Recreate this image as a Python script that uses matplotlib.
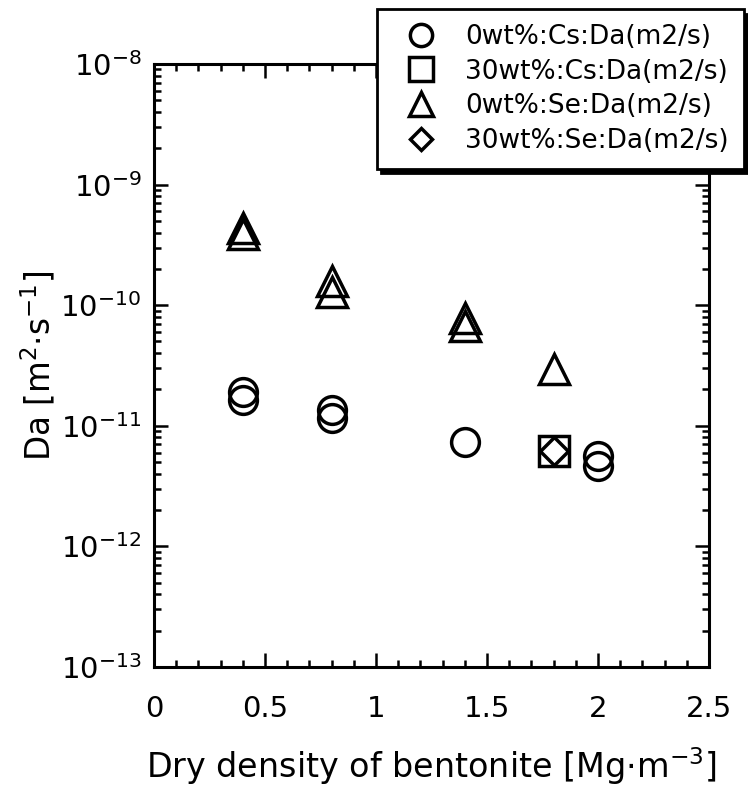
import numpy as np
import matplotlib
matplotlib.use("Agg")
import matplotlib.pyplot as plt
from matplotlib.ticker import MultipleLocator, LogLocator, NullFormatter

# Data (dry density in Mg/m3, Da in m2/s)
cs0_x = [0.4, 0.4, 0.8, 0.8, 1.4, 2.0, 2.0]
cs0_da = [1.9e-11, 1.64e-11, 1.35e-11, 1.16e-11, 7.3e-12, 5.6e-12, 4.65e-12]

cs30_x = [1.8]
cs30_da = [6.2e-12]

se0_x = [0.4, 0.4, 0.8, 0.8, 1.4, 1.4, 1.8]
se0_da = [4.4e-10, 3.9e-10, 1.58e-10, 1.29e-10, 7.8e-11, 6.7e-11, 2.96e-11]

se30_x = [1.8]
se30_da = [6.2e-12]

labels = ["0wt%:Cs:Da(m2/s)", "30wt%:Cs:Da(m2/s)",
          "0wt%:Se:Da(m2/s)", "30wt%:Se:Da(m2/s)"]

plt.rcParams['font.family'] = ['DejaVu Sans']
plt.rcParams['mathtext.default'] = 'regular'

fig = plt.figure(figsize=(7.48, 7.86), dpi=100)
ax = fig.add_axes([0.2059, 0.1514, 0.742, 0.7672])

mk = dict(linestyle='none', markerfacecolor='none', markeredgecolor='black',
          markeredgewidth=2.5)
ax.plot(cs0_x, cs0_da, marker='o', markersize=20, label=labels[0], **mk)
ax.plot(cs30_x, cs30_da, marker='s', markersize=21, label=labels[1], **mk)
ax.plot(se0_x, se0_da, marker='^', markersize=21, label=labels[2], **mk)
ax.plot(se30_x, se30_da, marker='D', markersize=14, label=labels[3], **mk)

ax.set_yscale('log')
ax.set_xlim(0, 2.5)
ax.set_ylim(1e-13, 1e-8)
ax.xaxis.set_minor_locator(MultipleLocator(0.1))
ax.yaxis.set_major_locator(LogLocator(base=10, numticks=10))
ax.yaxis.set_minor_locator(LogLocator(base=10, subs=np.arange(2, 10), numticks=20))
ax.yaxis.set_minor_formatter(NullFormatter())
ax.set_xticks([0, 0.5, 1, 1.5, 2, 2.5])
ax.set_xticklabels(['0', '0.5', '1', '1.5', '2', '2.5'])

ax.tick_params(which='both', direction='in', top=True, right=True,
               width=1.8, labelsize=21)
ax.tick_params(which='major', length=10)
ax.tick_params(which='minor', length=5)
ax.tick_params(axis='x', which='major', pad=20)
ax.tick_params(axis='y', which='major', pad=9)
for s in ax.spines.values():
    s.set_linewidth(2.2)

ax.set_xlabel(r'Dry density of bentonite [Mg$\cdot$m$^{-3}$]', fontsize=24, labelpad=16)
ax.set_ylabel(r'Da [m$^{2}$$\cdot$s$^{-1}$]', fontsize=23.5, labelpad=2)

leg = fig.legend(loc='upper right', bbox_to_anchor=(0.994, 0.988),
                 fontsize=19, markerscale=0.8, frameon=True, fancybox=False,
                 shadow={'color': 'black', 'alpha': 1, 'ox': 3, 'oy': -3},
                 borderpad=0.55, labelspacing=0.33, handletextpad=0.6,
                 handlelength=2.2, borderaxespad=0)
leg.get_frame().set_edgecolor('black')
leg.get_frame().set_linewidth(2)
leg.get_frame().set_alpha(1)

fig.savefig('out.png', dpi=100)
